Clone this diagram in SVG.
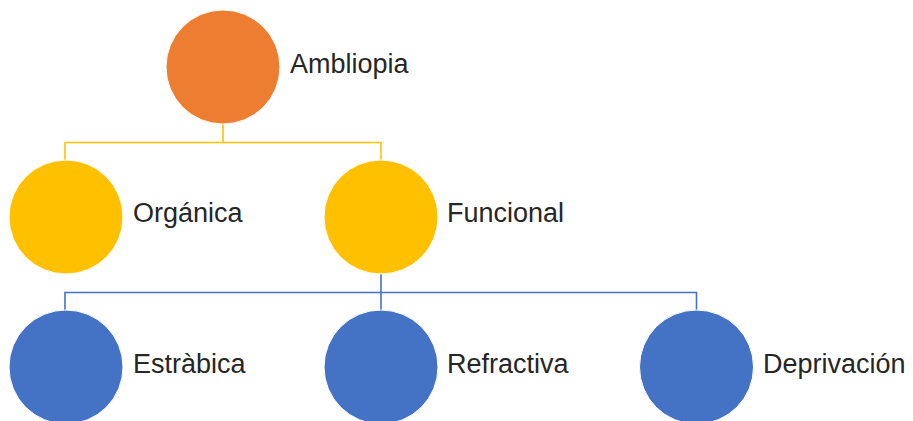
<svg xmlns="http://www.w3.org/2000/svg" width="913" height="421" viewBox="0 0 913 421">
<style>
.t{font-family:"Liberation Sans",Arial,sans-serif;font-size:27px;fill:#262626}
.c{stroke:#ffffff;stroke-width:1}
.ly{stroke:#FFC000;stroke-width:1.6;fill:none}
.lb{stroke:#4472C4;stroke-width:1.6;fill:none}
</style>
<rect width="913" height="421" fill="#ffffff"/>
<g id="connectors">
<path class="ly" d="M223,123 V142.5 M65,160 V142.5 H381 V160"/>
<path class="lb" d="M381,273 V292.5 M65,311 V292.5 H696.5 V311 M381,292.5 V311"/>
</g>
<g id="ambliopia"><circle class="c" cx="223" cy="67" r="57" fill="#ED7D31"/><text class="t" x="290" y="73">Ambliopia</text></g>
<g id="organica"><circle class="c" cx="66" cy="217" r="57" fill="#FFC000"/><text class="t" x="133" y="222">Orgánica</text></g>
<g id="funcional"><circle class="c" cx="381" cy="217" r="57" fill="#FFC000"/><text class="t" x="447" y="222">Funcional</text></g>
<g id="estrabica"><circle class="c" cx="66" cy="367" r="57" fill="#4472C4"/><text class="t" x="133" y="373">Estràbica</text></g>
<g id="refractiva"><circle class="c" cx="381" cy="367" r="57" fill="#4472C4"/><text class="t" x="447" y="373">Refractiva</text></g>
<g id="deprivacion"><circle class="c" cx="696.5" cy="367" r="57" fill="#4472C4"/><text class="t" x="763" y="373">Deprivación</text></g>
</svg>
